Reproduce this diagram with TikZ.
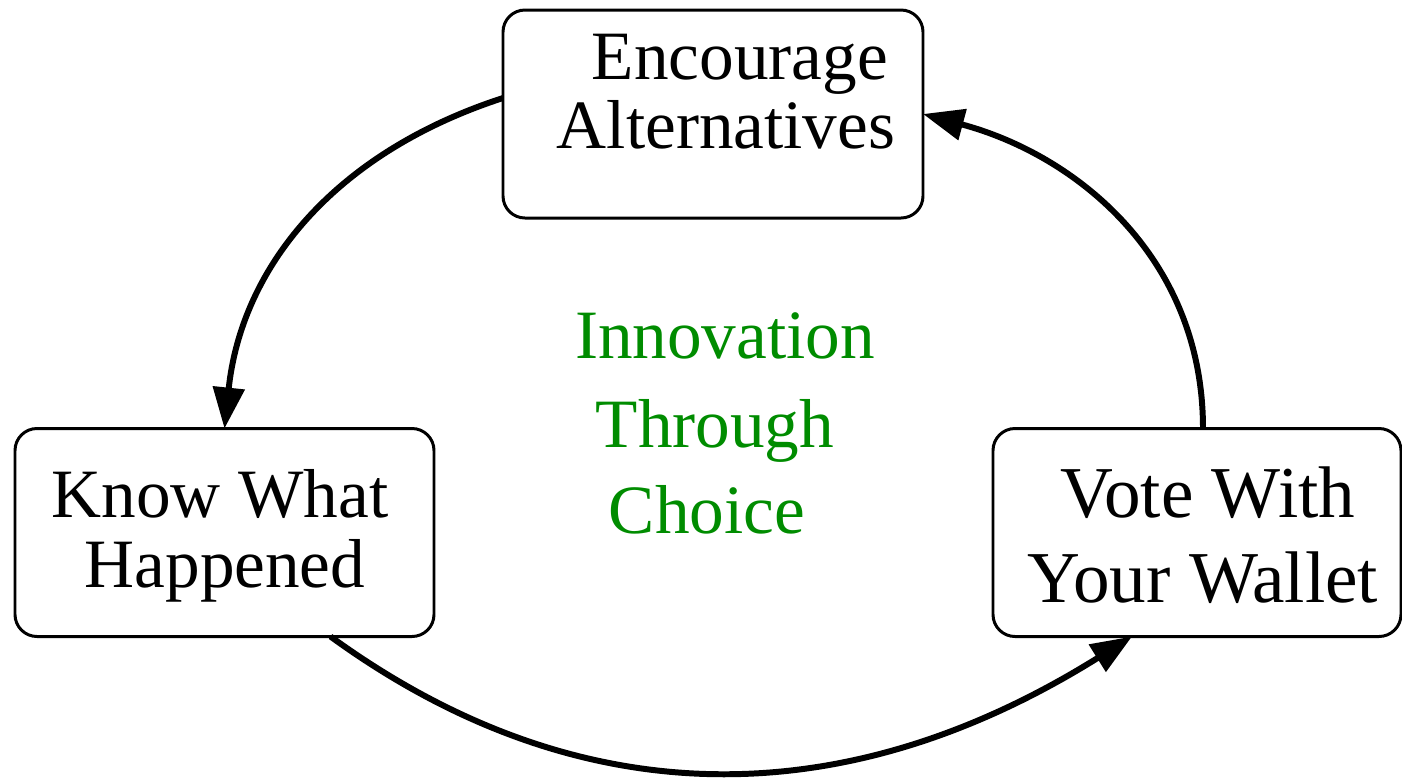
\documentclass[tikz,border=0pt]{standalone}
\usepackage{fontspec}
\setmainfont{Liberation Serif}
\usepackage{xcolor}
\usetikzlibrary{arrows.meta}
\definecolor{choicegreen}{RGB}{0, 140, 0}

\begin{document}
\begin{tikzpicture}[
		stepbox/.style={draw, line width=0.85pt, rounded corners=0.22cm, minimum height=2.08cm, inner sep=0pt, outer sep=0pt},
		word/.style={anchor=base, inner sep=0pt, font=\fontsize{19.7}{22}\selectfont},
		bigword/.style={word, font=\fontsize{20.8}{23}\selectfont},
		loop/.style={line width=1.7pt, -{Triangle[length=0.41cm, width=0.31cm]}}
	]
	\useasboundingbox (0,0) rectangle (14.02,7.78);
	
	% The three boxes
	\node[stepbox, minimum width=4.20cm] (enc) at (7.13,6.64) {};
	\node[stepbox, minimum width=4.19cm] (know) at (2.245,2.455) {};
	\node[stepbox, minimum width=4.08cm] (vote) at (11.97,2.455) {};
	
	% Box texts
	\node[word] (enc1) at (7.40,6.99) {Encourage};
	\node[word] (enc2) at (7.26,6.30) {Alternatives};
	\node[word] (know1) at (2.20,2.61) {Know What};
	\node[word] (know2) at (2.25,1.91) {Happened};
	\node[bigword] (vote1) at (12.08,2.61) {Vote With};
	\node[bigword] (vote2) at (12.03,1.76) {Your Wallet};
	
	% Middle text
	\node[word, choicegreen] (inno) at (7.25,4.20) {Innovation};
	\node[word, choicegreen] (thru) at (7.15,3.31) {Through};
	\node[word, choicegreen] (choi) at (7.07,2.45) {Choice};
	
	% The cycle
	\draw[loop] ([yshift=0.16cm]enc.west) .. controls +(198:1.8) and +(84:1.6) .. (know.north);
	\draw[loop] ([xshift=1.06cm]know.south) .. controls +(-36:3.06) and +(212:3.4) .. ([xshift=-0.65cm]vote.south);
	\draw[loop] ([xshift=0.06cm]vote.north) .. controls +(90:1.7) and +(-15:1.6) .. (enc.east);
\end{tikzpicture}
\end{document}
